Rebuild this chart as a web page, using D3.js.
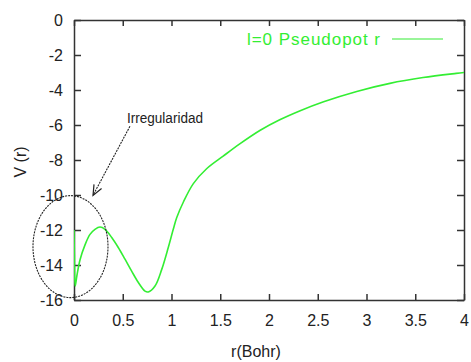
<!DOCTYPE html>
<html lang="en">
<head>
  <meta charset="UTF-8">
  <script src="https://d3js.org/d3.v7.min.js"></script>
  <style>
    html, body { margin: 0; padding: 0; background: #fff; }
    svg text { font-family: "Liberation Sans", Arial, sans-serif; fill: #222; }
  </style>
</head>
<body>
  <svg id="plot-svg" width="471" height="362"></svg>
  <script>
    // curve values
    const rValues = [0, 0.004, 0.012, 0.03, 0.062, 0.113, 0.164, 0.215, 0.267, 0.318, 0.387, 0.454, 0.523, 0.59,
      0.66, 0.728, 0.762, 0.831, 0.9, 0.967, 1.018, 1.053, 1.122, 1.224, 1.36, 1.53, 1.7, 1.91, 2.11, 2.32,
      2.56, 2.9, 3.24, 3.58, 3.92, 4.0];
    const vValues = [-12.0, -13.5, -15.2, -14.6, -13.7, -12.85, -12.25, -11.96, -11.83, -11.96, -12.43, -13.0, -13.67, -14.34,
      -15.0, -15.49, -15.54, -15.2, -14.25, -13.0, -11.96, -11.3, -10.4, -9.35, -8.5, -7.78, -7.08, -6.3, -5.7, -5.18,
      -4.67, -4.08, -3.62, -3.29, -3.05, -3.0];
    const xTicks = [0, 0.5, 1, 1.5, 2, 2.5, 3, 3.5, 4];
    const yTicks = [0, -2, -4, -6, -8, -10, -12, -14, -16];
    const legendLabel = "l=0 Pseudopot r";
    const noteLabel = "Irregularidad";

    const svg = d3.select("#plot-svg");
    const margin = { top: 20, right: 7, bottom: 62, left: 74 };
    const width = +svg.attr("width");
    const height = +svg.attr("height");
    const green = "#33ee33";

    const x = d3.scaleLinear().domain([0, 4]).range([margin.left, width - margin.right]);
    const y = d3.scaleLinear().domain([-16, 0]).range([height - margin.bottom, margin.top]);

    // axes with inward ticks on all four sides
    const fmt = d => d3.format("")(d).replace("−", "-");
    svg.append("g").attr("class", "axis")
      .attr("transform", `translate(0, ${y(-16)})`)
      .call(d3.axisBottom(x).tickValues(xTicks).tickFormat(fmt).tickSizeInner(-6).tickSizeOuter(0).tickPadding(15));
    svg.append("g").attr("class", "axis")
      .attr("transform", `translate(0, ${y(0)})`)
      .call(d3.axisTop(x).tickValues(xTicks).tickFormat("").tickSizeInner(-6).tickSizeOuter(0));
    svg.append("g").attr("class", "axis")
      .attr("transform", `translate(${x(0)}, 0)`)
      .call(d3.axisLeft(y).tickValues(yTicks).tickFormat(fmt).tickSizeInner(-7).tickSizeOuter(0).tickPadding(11));
    svg.append("g").attr("class", "axis")
      .attr("transform", `translate(${x(4)}, 0)`)
      .call(d3.axisRight(y).tickValues(yTicks).tickFormat("").tickSizeInner(-7).tickSizeOuter(0));

    svg.selectAll(".axis path").attr("stroke", "#333").attr("stroke-width", 1.5);
    svg.selectAll(".axis line").attr("stroke", "#333").attr("stroke-width", 1.5);
    svg.selectAll(".axis text").style("font-size", "16px").attr("fill", "#222");

    // axis labels
    svg.append("text")
      .attr("x", 256).attr("y", 357)
      .attr("text-anchor", "middle")
      .style("font-size", "16px")
      .text("r(Bohr)");
    svg.append("text")
      .attr("transform", "translate(26, 162) rotate(-90)")
      .attr("text-anchor", "middle")
      .style("font-size", "16px")
      .text("V (r)");

    // curve
    const data = rValues.map((r, i) => ({ r: r, v: vValues[i] }));
    svg.append("clipPath").attr("id", "clip")
      .append("rect")
      .attr("x", x(0)).attr("y", y(0))
      .attr("width", x(4) - x(0)).attr("height", y(-16) - y(0));
    svg.append("path")
      .datum(data)
      .attr("clip-path", "url(#clip)")
      .attr("fill", "none")
      .attr("stroke", green)
      .attr("stroke-width", 1.6)
      .attr("d", d3.line().x(d => x(d.r)).y(d => y(d.v)).curve(d3.curveCatmullRom.alpha(0.5)));

    // legend
    svg.append("text")
      .attr("x", 380).attr("y", 45)
      .attr("text-anchor", "end")
      .attr("textLength", 133)
      .style("font-size", "17px")
      .style("fill", green)
      .text(legendLabel);
    svg.append("line")
      .attr("x1", 392).attr("x2", 443)
      .attr("y1", 39).attr("y2", 39)
      .attr("stroke", "#99f599").attr("stroke-width", 2);

    // annotation: ellipse + arrow + note
    svg.append("ellipse")
      .attr("cx", x(-0.036)).attr("cy", y(-12.95))
      .attr("rx", 37.5).attr("ry", 51)
      .attr("fill", "none")
      .attr("stroke", "#222")
      .attr("stroke-width", 1.1)
      .attr("stroke-dasharray", "2,1");

    const a0 = [x(0.574), y(-6.07)];
    const a1 = [x(0.195), y(-10.02)];
    svg.append("line")
      .attr("x1", a0[0]).attr("y1", a0[1])
      .attr("x2", a1[0]).attr("y2", a1[1])
      .attr("stroke", "#222").attr("stroke-width", 1.1)
      .attr("stroke-dasharray", "2,1");
    const ang = Math.atan2(a1[1] - a0[1], a1[0] - a0[0]);
    const head = 11, spread = 0.4;
    svg.append("path")
      .attr("d", `M${a1[0] - head * Math.cos(ang - spread)},${a1[1] - head * Math.sin(ang - spread)}
        L${a1[0]},${a1[1]}
        L${a1[0] - head * Math.cos(ang + spread)},${a1[1] - head * Math.sin(ang + spread)}`)
      .attr("fill", "none")
      .attr("stroke", "#222").attr("stroke-width", 1.2);

    svg.append("text")
      .attr("x", 127).attr("y", 123)
      .attr("textLength", 76)
      .attr("lengthAdjust", "spacingAndGlyphs")
      .style("font-size", "14px")
      .text(noteLabel);
  </script>
</body>
</html>
